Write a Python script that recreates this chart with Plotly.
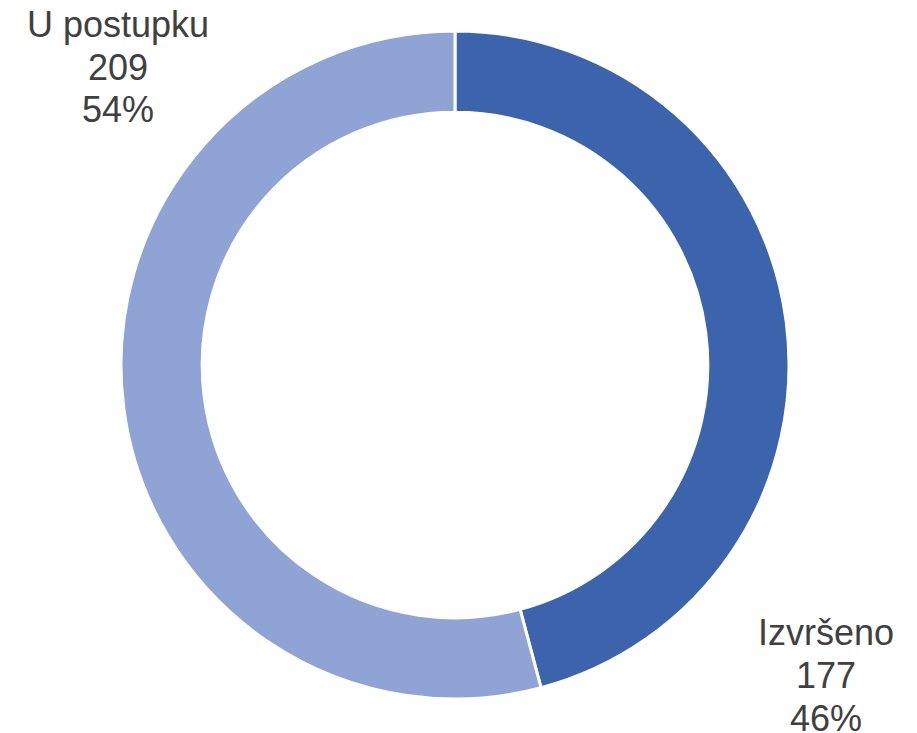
import plotly.graph_objects as go

labels = ["Izvršeno", "U postupku"]
values = [177, 209]
colors = ["#3C64AD", "#8FA3D4"]

total = sum(values)
percents = [round(v / total * 100) for v in values]

W, H = 917, 733
OFF = 8  # page body margin offset
cx, cy, r = 455 - OFF, 365 - OFF, 334

fig = go.Figure(go.Pie(
    labels=labels,
    values=values,
    hole=0.757,
    sort=False,
    direction="clockwise",
    rotation=0,
    marker=dict(colors=colors, line=dict(color="white", width=3)),
    textinfo="none",
    hoverinfo="label+value+percent",
    showlegend=False,
    domain=dict(x=[(cx - r) / W, (cx + r) / W],
                y=[(H - cy - r) / H, (H - cy + r) / H]),
))

# label block anchors (pixel center x, first-line center y) and line step
label_pos = [(826, 632), (118, 24)]
step = 43
for (px, py), lab, v, p in zip(label_pos, labels, values, percents):
    for i, line in enumerate([lab, str(v), f"{p}%"]):
        fig.add_annotation(
            x=(px - OFF) / W, y=(H - (py + i * step - OFF)) / H,
            xref="paper", yref="paper",
            text=line,
            showarrow=False, align="center",
            xanchor="center", yanchor="middle",
            font=dict(family="Liberation Sans, Arial, sans-serif", size=36, color="#404040"),
        )

fig.update_layout(
    width=W, height=H,
    margin=dict(l=0, r=0, t=0, b=0),
    paper_bgcolor="white", plot_bgcolor="white",
)

fig.write_html("out.html")
